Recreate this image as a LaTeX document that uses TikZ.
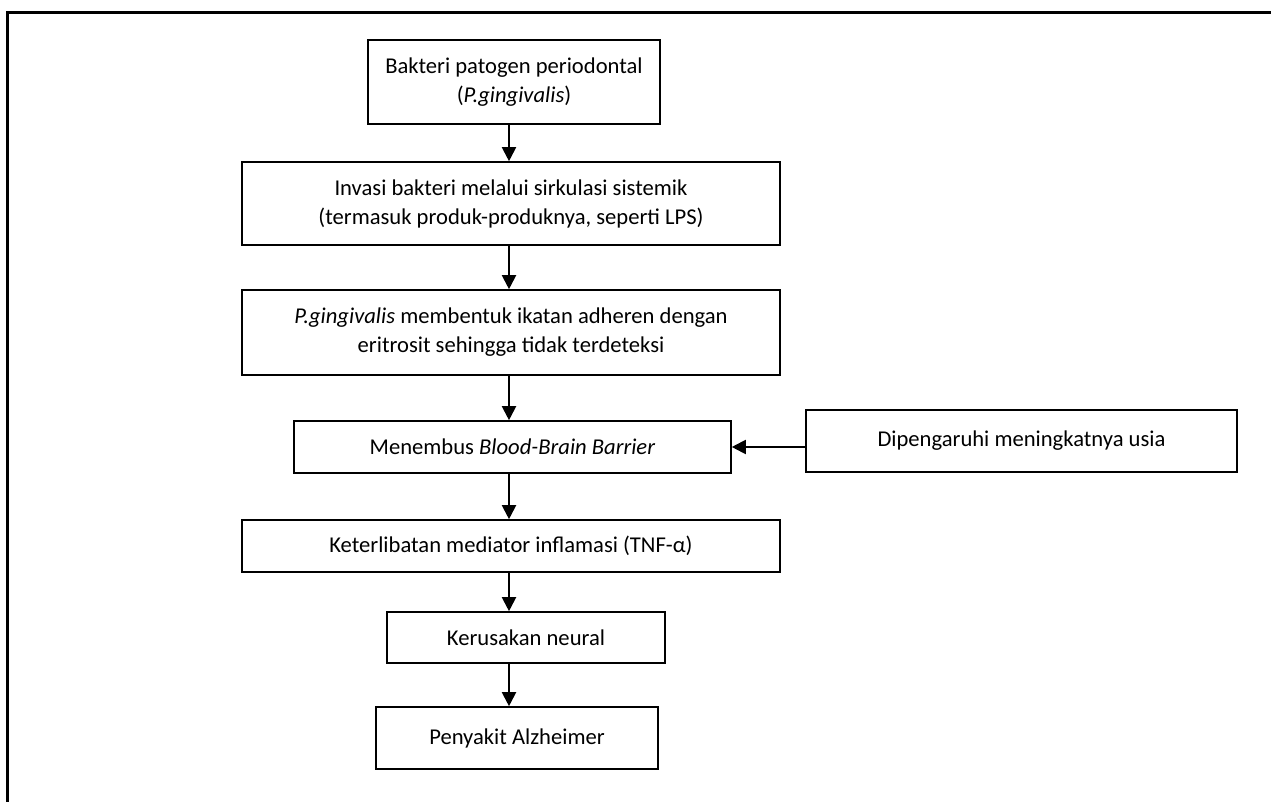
\documentclass[tikz,border=0pt]{standalone}
\usepackage{fontspec}
\setmainfont{Carlito}
\usetikzlibrary{positioning,arrows.meta}

\begin{document}
\begin{tikzpicture}[x=0.5pt, y=-0.5pt, >={Triangle[length=7pt,width=7pt]},
  box/.style={draw=black, line width=0.8pt, align=center, inner sep=0pt,
    font=\fontsize{11.3pt}{14.5pt}\selectfont},
  link/.style={->, line width=1pt}]

\useasboundingbox (0,0) rectangle (1271,802);

% Outer frame (only top and left side fall inside the page)
\draw[line width=1.5pt] (1600,12.5) -- (7.5,12.5) -- (7.5,1000);

% Main chain
\node[box, minimum width=146pt, minimum height=42pt] (B1) at (514,82) {Bakteri patogen periodontal\\(\textit{P.gingivalis})};
\node[box, minimum width=269pt, minimum height=41.5pt] (B2) at (511,203.5) {Invasi bakteri melalui sirkulasi sistemik\\(termasuk produk-produknya, seperti LPS)};
\node[box, minimum width=269pt, minimum height=42.5pt] (B3) at (511,332.5) {\textit{P.gingivalis} membentuk ikatan adheren dengan\\eritrosit sehingga tidak terdeteksi};
\node[box, minimum width=218.5pt, minimum height=26pt] (B4) at (512.5,447) {Menembus \textit{Blood-Brain Barrier}};
\node[box, minimum width=269pt, minimum height=26pt] (B6) at (511,546) {Keterlibatan mediator inflamasi (TNF-α)};
\node[box, minimum width=139pt, minimum height=25.5pt] (B7) at (526,637.5) {Kerusakan neural};
\node[box, minimum width=141pt, minimum height=31pt] (B8) at (517,738) {Penyakit Alzheimer};

% Side factor
\node[box, minimum width=215.5pt, minimum height=31pt] (B5) at (1021.5,441) {Dipengaruhi meningkatnya usia};

% Connections
\coordinate (ax) at (509,0);
\draw[link] (B1.south -| ax) -- (B2.north -| ax);
\draw[link] (B2.south -| ax) -- (B3.north -| ax);
\draw[link] (B3.south -| ax) -- (B4.north -| ax);
\draw[link] (B4.south -| ax) -- (B6.north -| ax);
\draw[link] (B6.south -| ax) -- (B7.north -| ax);
\draw[link] (B7.south -| ax) -- (B8.north -| ax);
\draw[link] (B5.west |- B4.east) -- (B4.east);

\end{tikzpicture}
\end{document}
